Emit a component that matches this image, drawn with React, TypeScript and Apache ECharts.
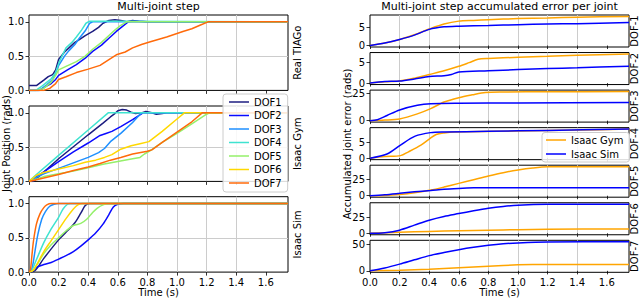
import React, { useEffect, useRef } from "react";
import * as echarts from "echarts";

// ---------- axis ticks / labels ----------
const timeTicks = [0, 0.2, 0.4, 0.6, 0.8, 1.0, 1.2, 1.4, 1.6];
const posTicks = [0, 0.5, 1.0];
const dofNames = ["DOF1", "DOF2", "DOF3", "DOF4", "DOF5", "DOF6", "DOF7"];
const dofColors = ["#1c1c80", "#0a0aff", "#1e8fff", "#3fe3d0", "#94f06a", "#ffd800", "#ff6a0a"];
const rowLabels = ["Real TIAGo", "Isaac Gym", "Isaac Sim"];
const errLabels = ["DOF-1", "DOF-2", "DOF-3", "DOF-4", "DOF-5", "DOF-6", "DOF-7"];
const errTickStep = [5, 5, 25, 5, 25, 25, 50];
const simNames = ["Isaac Gym", "Isaac Sim"];
const simColors = ["#ffa500", "#0000ff"];

// ---------- Real TIAGo joint positions ----------
const tiagoDOF1 = [[0, 0.07], [0.05, 0.07], [0.1, 0.15], [0.13, 0.2], [0.16, 0.23], [0.18, 0.3], [0.2, 0.45], [0.24, 0.56], [0.27, 0.62], [0.31, 0.7], [0.34, 0.74], [0.38, 0.8], [0.43, 0.86], [0.47, 0.92], [0.5, 0.98], [0.54, 1.02], [0.58, 1.03], [0.62, 1.02], [0.66, 1.0], [0.7, 1.02], [0.74, 1.01], [0.8, 1.0], [1.75, 1.0]];
const tiagoDOF2 = [[0, 0], [0.07, 0], [0.115, 0.06], [0.15, 0.1], [0.18, 0.16], [0.2, 0.22], [0.26, 0.3], [0.32, 0.375], [0.38, 0.47], [0.43, 0.57], [0.49, 0.66], [0.54, 0.76], [0.59, 0.86], [0.63, 0.93], [0.67, 1.0], [0.72, 1.01], [0.8, 1.0], [1.75, 1.0]];
const tiagoDOF3 = [[0, 0], [0.07, 0], [0.12, 0.08], [0.16, 0.16], [0.2, 0.36], [0.24, 0.5], [0.27, 0.58], [0.31, 0.67], [0.34, 0.76], [0.38, 0.87], [0.41, 0.98], [0.43, 1.0], [1.75, 1.0]];
const tiagoDOF4 = [[0, 0], [0.047, 0], [0.08, 0.05], [0.115, 0.11], [0.15, 0.17], [0.18, 0.26], [0.205, 0.42], [0.25, 0.62], [0.29, 0.7], [0.32, 0.78], [0.355, 0.88], [0.385, 0.98], [0.41, 1.01], [0.6, 1.01], [1.75, 1.0]];
const tiagoDOF5 = [[0, 0], [0.06, 0], [0.1, 0.03], [0.15, 0.12], [0.18, 0.22], [0.2, 0.3], [0.25, 0.35], [0.32, 0.42], [0.38, 0.5], [0.43, 0.6], [0.49, 0.7], [0.54, 0.8], [0.58, 0.88], [0.62, 0.95], [0.66, 1.0], [1.75, 1.0]];
const tiagoDOF7 = [[0, 0], [0.1, 0], [0.14, 0.03], [0.18, 0.1], [0.2, 0.16], [0.25, 0.2], [0.32, 0.26], [0.4, 0.31], [0.48, 0.365], [0.54, 0.45], [0.59, 0.52], [0.65, 0.56], [0.7, 0.62], [0.76, 0.67], [0.82, 0.71], [0.93, 0.78], [1.04, 0.86], [1.1, 0.9], [1.155, 0.95], [1.21, 1.0], [1.75, 1.0]];

// ---------- Isaac Gym joint positions ----------
const gymDOF1 = [[0, 0], [0.03, 0], [0.2, 0.33], [0.4, 0.68], [0.5, 0.85], [0.55, 0.94], [0.58, 0.99], [0.6, 1.03], [0.63, 1.05], [0.66, 1.04], [0.69, 1.01], [0.72, 0.99], [0.76, 1.0], [0.79, 1.02], [0.83, 1.0], [0.86, 0.98], [0.9, 0.99], [0.93, 1.0], [1.75, 1.0]];
const gymDOF2 = [[0, 0], [0.1, 0.14], [0.2, 0.29], [0.3, 0.43], [0.4, 0.56], [0.48, 0.67], [0.52, 0.7], [0.56, 0.73], [0.62, 0.8], [0.7, 0.9], [0.77, 1.0], [1.75, 1.0]];
const gymDOF3 = [[0, 0], [0.05, 0.06], [0.1, 0.11], [0.2, 0.19], [0.3, 0.27], [0.4, 0.35], [0.47, 0.42], [0.51, 0.48], [0.55, 0.58], [0.62, 0.7], [0.7, 0.86], [0.76, 1.0], [1.75, 1.0]];
const gymDOF4 = [[0, 0], [0.05, 0.1], [0.2, 0.38], [0.4, 0.75], [0.535, 1.0], [1.75, 1.0]];
const gymDOF5 = [[0, 0], [0.1, 0.07], [0.2, 0.11], [0.3, 0.15], [0.4, 0.2], [0.5, 0.25], [0.6, 0.29], [0.7, 0.33], [0.75, 0.35], [0.78, 0.4], [0.82, 0.45], [0.9, 0.57], [1.0, 0.7], [1.1, 0.84], [1.2, 0.98], [1.22, 1.0], [1.75, 1.0]];
const gymDOF6 = [[0, 0], [0.05, 0.09], [0.1, 0.13], [0.2, 0.18], [0.3, 0.23], [0.38, 0.28], [0.45, 0.31], [0.51, 0.35], [0.56, 0.39], [0.62, 0.47], [0.69, 0.52], [0.75, 0.55], [0.81, 0.58], [0.9, 0.73], [1.0, 0.91], [1.05, 1.0], [1.75, 1.0]];
const gymDOF7 = [[0, 0], [0.1, 0.05], [0.2, 0.1], [0.3, 0.16], [0.4, 0.21], [0.48, 0.26], [0.55, 0.31], [0.62, 0.35], [0.7, 0.4], [0.8, 0.44], [0.83, 0.46], [0.9, 0.57], [1.0, 0.72], [1.1, 0.87], [1.17, 1.0], [1.75, 1.0]];

// ---------- Isaac Sim joint positions ----------
const simDOF1 = [[0, 0], [0.04, 0.02], [0.1, 0.2], [0.2, 0.47], [0.25, 0.58], [0.31, 0.72], [0.35, 0.86], [0.38, 0.97], [0.41, 1.0], [1.75, 1.0]];
const simDOF2 = [[0, 0], [0.03, 0.03], [0.06, 0.08], [0.1, 0.11], [0.15, 0.14], [0.2, 0.19], [0.25, 0.24], [0.3, 0.3], [0.35, 0.38], [0.4, 0.47], [0.45, 0.57], [0.5, 0.7], [0.54, 0.84], [0.57, 0.95], [0.6, 0.99], [0.64, 1.0], [1.75, 1.0]];
const simDOF3 = [[0, 0], [0.02, 0.05], [0.04, 0.3], [0.06, 0.55], [0.086, 0.77], [0.11, 0.88], [0.14, 0.96], [0.17, 0.99], [0.2, 1.0], [1.75, 1.0]];
const simDOF4 = [[0, 0], [0.02, 0.03], [0.05, 0.18], [0.1, 0.43], [0.15, 0.63], [0.2, 0.8], [0.23, 0.92], [0.26, 0.99], [0.28, 1.0], [1.75, 1.0]];
const simDOF5 = [[0, 0], [0.03, 0.03], [0.1, 0.27], [0.15, 0.4], [0.2, 0.5], [0.25, 0.6], [0.3, 0.68], [0.35, 0.71], [0.39, 0.77], [0.43, 0.87], [0.46, 0.93], [0.5, 0.98], [0.54, 1.0], [1.75, 1.0]];
const simDOF6 = [[0, 0], [0.03, 0.03], [0.1, 0.3], [0.15, 0.46], [0.2, 0.62], [0.25, 0.78], [0.3, 0.92], [0.33, 0.98], [0.36, 1.0], [1.75, 1.0]];
const simDOF7 = [[0, 0], [0.01, 0.04], [0.02, 0.25], [0.03, 0.45], [0.05, 0.7], [0.074, 0.85], [0.1, 0.94], [0.12, 0.98], [0.15, 1.0], [1.75, 1.0]];

// ---------- accumulated error per joint ----------
const err1Gym = [[0, 0], [0.1, 0.7], [0.2, 1.7], [0.3, 3.0], [0.4, 4.6], [0.5, 6.0], [0.6, 6.8], [0.7, 7.0], [0.8, 7.2], [1.0, 7.5], [1.2, 7.7], [1.4, 7.9], [1.75, 8.1]];
const err1Sim = [[0, 0], [0.1, 0.7], [0.2, 1.7], [0.3, 2.9], [0.4, 4.5], [0.5, 5.2], [0.6, 5.4], [0.8, 5.6], [1.0, 5.8], [1.2, 6.0], [1.4, 6.1], [1.75, 6.4]];
const err2Gym = [[0, 0], [0.1, 0.3], [0.2, 0.5], [0.3, 1.2], [0.4, 2.1], [0.5, 3.0], [0.6, 4.1], [0.67, 5.0], [0.73, 5.8], [0.8, 6.0], [1.0, 6.3], [1.2, 6.55], [1.4, 6.8], [1.75, 7.1]];
const err2Sim = [[0, 0], [0.1, 0.4], [0.2, 0.5], [0.3, 1.0], [0.4, 1.6], [0.5, 1.8], [0.55, 2.1], [0.6, 2.7], [0.8, 3.0], [1.0, 3.3], [1.2, 3.55], [1.4, 3.75], [1.75, 4.1]];
const err3Gym = [[0, 0], [0.1, 0.5], [0.2, 1.6], [0.32, 6.2], [0.41, 11], [0.5, 17], [0.6, 21], [0.69, 23.6], [0.78, 25.8], [0.9, 26.2], [1.2, 26.4], [1.75, 26.6]];
const err3Sim = [[0, 0], [0.05, 0.8], [0.115, 4.7], [0.2, 9.8], [0.32, 14], [0.41, 15.5], [0.6, 16], [1.0, 16.2], [1.75, 16.5]];
const err4Gym = [[0, 0], [0.1, 0.5], [0.206, 0.8], [0.26, 2.0], [0.344, 4.1], [0.4, 6.0], [0.447, 7.4], [0.5, 7.9], [0.573, 8.2], [1.0, 8.5], [1.4, 8.8], [1.75, 9.1]];
const err4Sim = [[0, 0], [0.115, 1.3], [0.206, 4.1], [0.305, 6.9], [0.41, 8.0], [0.5, 8.2], [0.8, 8.4], [1.2, 8.7], [1.75, 9.1]];
const err5Gym = [[0, 0], [0.1, 0.5], [0.2, 2], [0.3, 4.5], [0.41, 8.5], [0.5, 13], [0.6, 18.5], [0.7, 24], [0.8, 29.5], [0.9, 34.5], [1.0, 38.5], [1.1, 41.5], [1.2, 43.3], [1.4, 43.5], [1.75, 43.3]];
const err5Sim = [[0, 0], [0.1, 1.5], [0.2, 3.6], [0.3, 5.8], [0.41, 7.8], [0.5, 9.8], [0.6, 11], [0.7, 11.8], [0.8, 12], [1.75, 12]];
const err6Gym = [[0, 0], [0.2, 1.5], [0.4, 3], [0.6, 4], [0.8, 5], [1.0, 5.8], [1.2, 6.5], [1.75, 6.9]];
const err6Sim = [[0, 0], [0.1, 1], [0.2, 5], [0.3, 13], [0.4, 21], [0.5, 27], [0.6, 31.5], [0.7, 36], [0.8, 40], [0.9, 43], [1.0, 45], [1.2, 46.3], [1.75, 46.5]];
const err7Gym = [[0, 0], [0.2, 1], [0.4, 3], [0.6, 6], [0.8, 9], [1.0, 11.5], [1.1, 12], [1.75, 12]];
const err7Sim = [[0, 0], [0.1, 5.5], [0.2, 12.8], [0.3, 21], [0.4, 29], [0.5, 35], [0.6, 40.4], [0.7, 45], [0.8, 48.7], [0.9, 51.5], [1.0, 53.2], [1.2, 55], [1.75, 55.5]];

const posRows = [
  [tiagoDOF1, tiagoDOF2, tiagoDOF3, tiagoDOF4, tiagoDOF5, null, tiagoDOF7],
  [gymDOF1, gymDOF2, gymDOF3, gymDOF4, gymDOF5, gymDOF6, gymDOF7],
  [simDOF1, simDOF2, simDOF3, simDOF4, simDOF5, simDOF6, simDOF7],
];
const errRows = [
  [err1Gym, err1Sim], [err2Gym, err2Sim], [err3Gym, err3Sim], [err4Gym, err4Sim],
  [err5Gym, err5Sim], [err6Gym, err6Sim], [err7Gym, err7Sim],
];

const FONT = "DejaVu Sans";

function buildOption() {
  const grid: any[] = [];
  const xAxis: any[] = [];
  const yAxis: any[] = [];
  const series: any[] = [];
  const graphic: any[] = [];

  const gridBase = { show: true, borderColor: "#000", borderWidth: 1, backgroundColor: "rgba(0,0,0,0)", containLabel: false, outerBoundsMode: "none" };
  const split = { show: true, showMinLine: false, showMaxLine: false, lineStyle: { color: "#cccccc", width: 1 } };
  const mkX = (gi: number, labels: boolean) => ({
    type: "value", gridIndex: gi, min: 0, max: 1.75, interval: 0.2,
    axisLine: { show: false },
    axisTick: { show: true, length: 3.5, customValues: timeTicks, lineStyle: { color: "#000", width: 0.8 } },
    axisLabel: { show: labels, customValues: timeTicks, fontSize: 10, color: "#000", margin: 5, fontFamily: FONT, formatter: (v: number) => v.toFixed(1) },
    splitLine: split,
  });

  const leftTops = [15, 106, 196.7];
  const leftH = 75.4;
  leftTops.forEach((top, r) => {
    const gi = grid.length;
    grid.push({ ...gridBase, left: 29, top, width: 259, height: leftH });
    xAxis.push(mkX(gi, r === 2));
    yAxis.push({
      type: "value", gridIndex: gi, min: 0, max: 1.1, interval: 0.5,
      axisLine: { show: false },
      axisTick: { show: true, length: 3.5, customValues: posTicks, lineStyle: { color: "#000", width: 0.8 } },
      axisLabel: { show: true, customValues: posTicks, fontSize: 10, color: "#000", margin: 5, fontFamily: FONT, formatter: (v: number) => v.toFixed(1) },
      splitLine: split,
    });
    posRows[r].forEach((d, k) => {
      if (!d) return;
      series.push({
        type: "line", name: dofNames[k], xAxisIndex: gi, yAxisIndex: gi, data: d,
        showSymbol: false, symbol: "none", smooth: r === 2 ? 0.3 : false,
        lineStyle: { width: 1.5, color: dofColors[k] }, itemStyle: { color: dofColors[k] },
      });
    });
    graphic.push({ type: "text", x: 297, y: top + leftH / 2, rotation: Math.PI / 2, style: { text: rowLabels[r], fontSize: 10, fontFamily: FONT, fill: "#000", align: "center", verticalAlign: "middle" } });
  });

  const rightTops = [15, 52.55, 90.1, 127.65, 165.2, 202.75, 240.3];
  const rightH = 32;
  rightTops.forEach((top, r) => {
    const gi = grid.length;
    grid.push({ ...gridBase, left: 370, top, width: 259, height: rightH });
    xAxis.push(mkX(gi, r === 6));
    const vals = errRows[r].flat().map((p: number[]) => p[1]);
    const mx = Math.max(...vals);
    const mn = Math.min(...vals);
    const span = mx - mn;
    const step = errTickStep[r];
    const ticks = [0, step];
    yAxis.push({
      type: "value", gridIndex: gi, min: mn - 0.05 * span, max: mx + 0.05 * span,
      minInterval: step, maxInterval: step,
      axisLine: { show: false },
      axisTick: { show: true, length: 3.5, customValues: ticks, lineStyle: { color: "#000", width: 0.8 } },
      axisLabel: { show: true, customValues: ticks, fontSize: 10, color: "#000", margin: 5, fontFamily: FONT, formatter: (v: number) => String(Math.round(v)) },
      splitLine: split,
    });
    errRows[r].forEach((d, k) => {
      series.push({
        type: "line", name: simNames[k], xAxisIndex: gi, yAxisIndex: gi, data: d,
        showSymbol: false, symbol: "none", smooth: 0.3,
        lineStyle: { width: 1.5, color: simColors[k] }, itemStyle: { color: simColors[k] },
      });
    });
    graphic.push({ type: "text", x: 634, y: top + rightH / 2, rotation: Math.PI / 2, style: { text: errLabels[r], fontSize: 10, fontFamily: FONT, fill: "#000", align: "center", verticalAlign: "middle" } });
  });

  const txt = (text: string, x: number, y: number, size: number, rot = 0) => ({
    type: "text", x, y, rotation: rot,
    style: { text, fontSize: size, fontFamily: FONT, fill: "#000", align: "center", verticalAlign: "middle" },
  });
  graphic.push(txt("Multi-joint step", 158.5, 6, 11));
  graphic.push(txt("Multi-joint step accumulated error per joint", 499.5, 6, 11));
  graphic.push(txt("Time (s)", 158.5, 292, 10));
  graphic.push(txt("Time (s)", 499.5, 292, 10));
  graphic.push(txt("Joint Position (rads)", 6, 143.5, 10, Math.PI / 2));
  graphic.push(txt("Accumulated joint error (rads)", 347, 144, 10, Math.PI / 2));

  const legendIcon = "path://M0,0L20,0L20,1.5L0,1.5Z";
  const legend = [
    {
      data: dofNames, orient: "vertical", left: 223, top: 94, padding: [3, 6, 4, 6], itemGap: 3.5,
      itemWidth: 20, itemHeight: 10, icon: legendIcon,
      textStyle: { fontSize: 10, color: "#000", fontFamily: FONT },
      backgroundColor: "rgba(255,255,255,0.85)", borderColor: "#cccccc", borderWidth: 1, borderRadius: 3,
    },
    {
      data: simNames, orient: "vertical", left: 542, top: 132.5, padding: [2.5, 6, 3, 4], itemGap: 4,
      itemWidth: 20, itemHeight: 10, icon: legendIcon,
      textStyle: { fontSize: 10, color: "#000", fontFamily: FONT },
      backgroundColor: "rgba(255,255,255,0.85)", borderColor: "#cccccc", borderWidth: 1, borderRadius: 3,
    },
  ];

  return {
    animation: false,
    textStyle: { fontFamily: FONT },
    grid, xAxis, yAxis, series, legend, graphic,
  };
}

export default function App() {
  const ref = useRef<HTMLDivElement>(null);
  useEffect(() => {
    if (!ref.current) return;
    const chart = echarts.init(ref.current, undefined, { renderer: "svg" });
    chart.setOption(buildOption() as any);
    return () => chart.dispose();
  }, []);
  return <div ref={ref} style={{ position: "absolute", left: 0, top: 0, width: 640, height: 298, background: "#fff" }} />;
}
